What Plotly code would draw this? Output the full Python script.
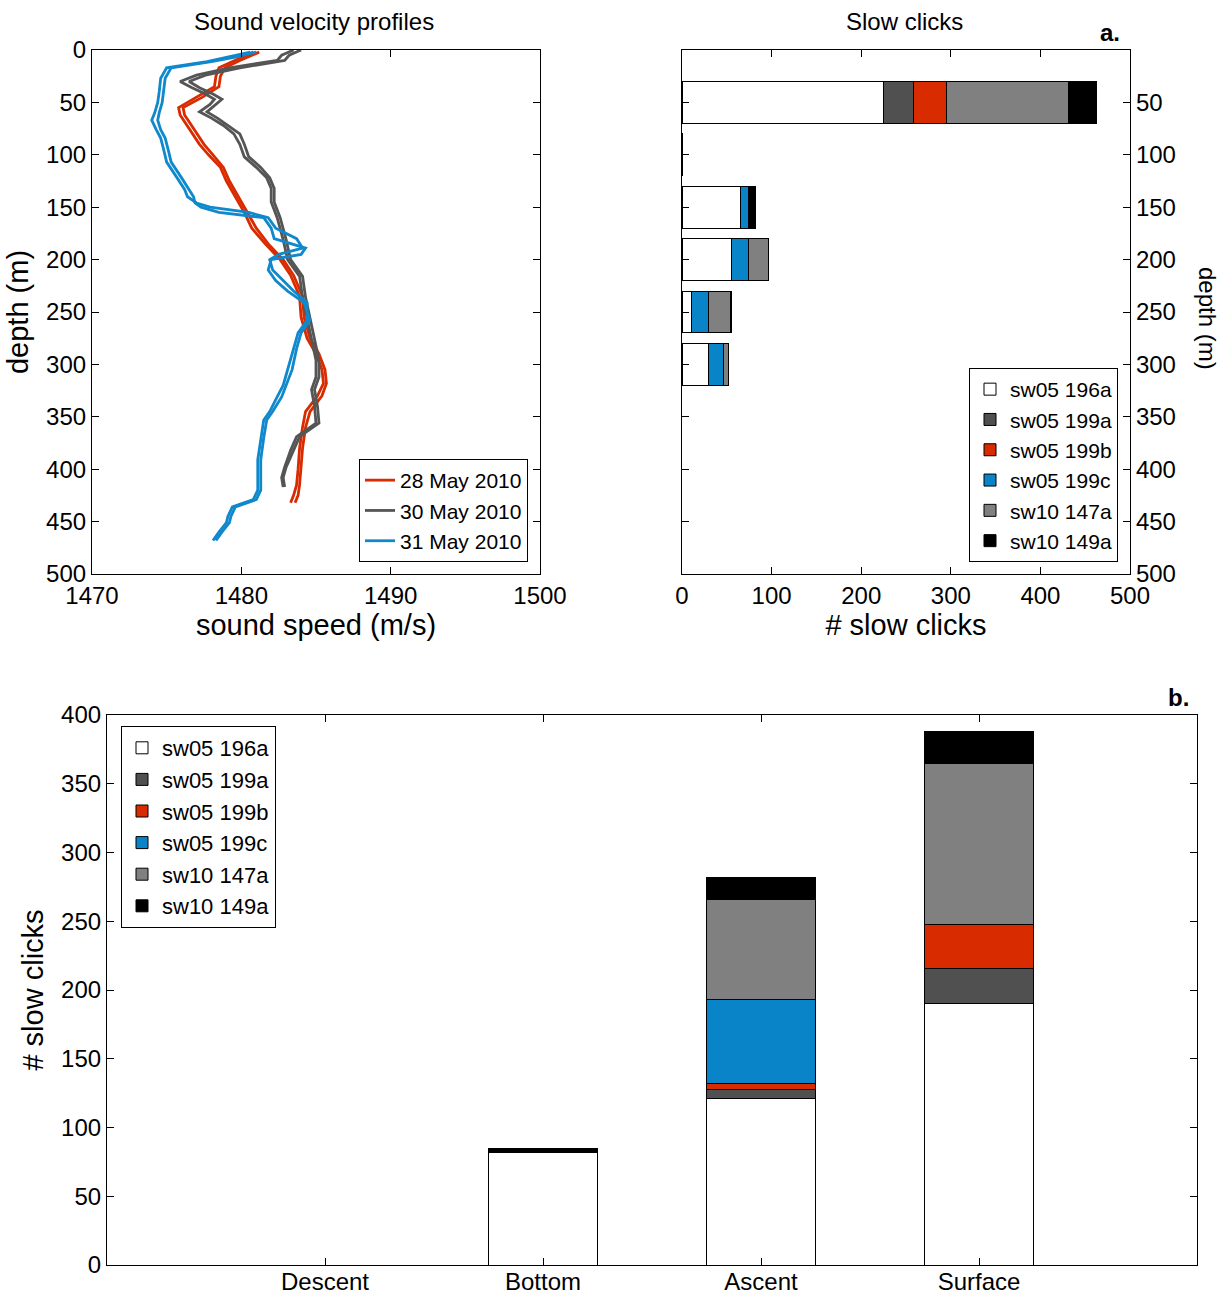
import plotly.graph_objects as go

# ---------------- data ----------------
# Sound velocity profiles (two casts each)
red_depth = [2, 10, 17, 25, 35, 45, 55, 62, 75, 90, 100, 112, 125, 140, 155, 170, 185, 200, 215, 235,
             255, 275, 290, 305, 318, 330, 345, 360, 380, 400, 415, 425, 432]
red_speed_a = [1480.8, 1479.6, 1478.5, 1478.3, 1478.2, 1477.0, 1475.8, 1475.9, 1476.5, 1477.2, 1477.8, 1478.6,
               1479.0, 1479.6, 1480.2, 1480.7, 1481.6, 1482.6, 1483.3, 1483.9, 1484.0, 1484.4, 1485.0, 1485.4,
               1485.5, 1485.1, 1484.3, 1484.1, 1483.9, 1483.8, 1483.7, 1483.5, 1483.3]
red_speed_b = [1481.2, 1479.9, 1478.9, 1478.6, 1478.5, 1477.4, 1476.1, 1476.2, 1476.8, 1477.5, 1478.1, 1478.8,
               1479.2, 1479.8, 1480.4, 1481.0, 1481.8, 1482.8, 1483.5, 1484.1, 1484.2, 1484.6, 1485.2, 1485.6,
               1485.7, 1485.4, 1484.6, 1484.3, 1484.1, 1484.0, 1483.9, 1483.8, 1483.6]

gray_depth = [0, 5, 10, 17, 24, 30, 36, 42, 47, 52, 59, 65, 72, 80, 90, 102, 112, 122, 132, 145, 160, 181,
              200, 216, 236, 255, 275, 296, 312, 324, 340, 356, 369, 382, 398, 408, 417]
gray_speed_a = [1483.5, 1482.7, 1482.4, 1479.2, 1477.0, 1475.9, 1476.7, 1477.6, 1478.2, 1477.9, 1477.2, 1478.0,
                1478.8, 1479.5, 1479.9, 1480.2, 1481.0, 1481.7, 1482.0, 1482.0, 1482.4, 1482.8, 1483.1, 1483.9,
                1484.1, 1484.4, 1484.7, 1485.0, 1485.0, 1484.7, 1484.9, 1485.0, 1483.7, 1483.3, 1482.9, 1482.7,
                1482.8]
gray_speed_b = [1484.0, 1483.2, 1482.9, 1479.9, 1477.6, 1476.5, 1477.2, 1478.1, 1478.7, 1478.3, 1477.7, 1478.4,
                1479.1, 1479.9, 1480.2, 1480.5, 1481.3, 1481.9, 1482.2, 1482.2, 1482.6, 1483.0, 1483.3, 1484.1,
                1484.3, 1484.6, 1484.9, 1485.2, 1485.2, 1484.9, 1485.1, 1485.2, 1483.9, 1483.5, 1483.0, 1482.8,
                1482.9]

blue_depth = [2, 7, 11, 17, 27, 40, 50, 60, 67, 76, 84, 95, 107, 122, 133, 140, 146, 150, 155, 160, 170, 180,
              189, 195, 200, 210, 220, 230, 241, 258, 270, 285, 305, 320, 331, 345, 353, 370, 391, 410, 420, 429,
              436, 445, 451, 460, 468]
blue_speed_a = [1480.6, 1479.0, 1477.7, 1475.0, 1474.6, 1474.5, 1474.4, 1474.2, 1474.0, 1474.3, 1474.6, 1474.8,
                1475.0, 1475.7, 1476.2, 1476.4, 1477.0, 1477.9, 1480.5, 1481.8, 1482.3, 1483.7, 1484.1, 1482.5,
                1481.9, 1482.1, 1482.8, 1483.5, 1484.4, 1484.4, 1483.8, 1483.5, 1483.1, 1482.8, 1482.4, 1481.9,
                1481.5, 1481.3, 1481.1, 1481.1, 1481.1, 1480.8, 1479.4, 1479.1, 1479.0, 1478.5, 1478.1]
blue_speed_b = [1481.0, 1479.5, 1478.0, 1475.3, 1474.9, 1474.8, 1474.7, 1474.5, 1474.4, 1474.6, 1474.9, 1475.1,
                1475.3, 1476.0, 1476.5, 1476.8, 1476.9, 1477.3, 1478.5, 1481.5, 1482.0, 1482.2, 1484.3, 1484.0,
                1482.0, 1481.8, 1482.3, 1483.1, 1484.2, 1484.6, 1484.0, 1483.7, 1483.4, 1483.0, 1482.7, 1482.1,
                1481.7, 1481.5, 1481.3, 1481.3, 1481.3, 1481.0, 1479.6, 1479.3, 1479.2, 1478.7, 1478.3]

profile_names = ["28 May 2010", "30 May 2010", "31 May 2010"]

# Slow clicks by depth bin (m)
depth_bins = [50, 100, 150, 200, 250, 300]
series_names = ["sw05 196a", "sw05 199a", "sw05 199b", "sw05 199c", "sw10 147a", "sw10 149a"]
clicks_by_depth = {
    "sw05 196a": [225, 1, 65, 55, 11, 30],
    "sw05 199a": [33, 0, 0, 0, 0, 0],
    "sw05 199b": [37, 0, 0, 0, 0, 0],
    "sw05 199c": [0, 0, 9, 19, 19, 16],
    "sw10 147a": [136, 0, 0, 22, 24, 6],
    "sw10 149a": [32, 0, 8, 0, 1.5, 0],
}

# Slow clicks by dive phase
phases = ["Descent", "Bottom", "Ascent", "Surface"]
clicks_by_phase = {
    "sw05 196a": [0, 82, 121, 190],
    "sw05 199a": [0, 0, 6.5, 26],
    "sw05 199b": [0, 0, 4.5, 32],
    "sw05 199c": [0, 0, 61, 0],
    "sw10 147a": [0, 0, 73, 117],
    "sw10 149a": [0, 3, 16, 23],
}

# ---------------- styles ----------------
profile_colors = ["#D92B00", "#555555", "#0F88CC"]
bar_colors = ["#FFFFFF", "#505050", "#D92B00", "#0A84C8", "#808080", "#000000"]
FONT = "Liberation Sans, Arial, sans-serif"
FS = 24
W, H = 1226, 1298


def px(x):
    return x / W


def py(y):
    return 1 - y / H


def nz(vals):
    # hide empty segments so that no zero-height outline is drawn
    return [v if v else None for v in vals]


fig = go.Figure()

profiles = [(red_depth, red_speed_a, red_speed_b),
            (gray_depth, gray_speed_a, gray_speed_b),
            (blue_depth, blue_speed_a, blue_speed_b)]
for (d, a, b), name, col in zip(profiles, profile_names, profile_colors):
    fig.add_trace(go.Scatter(x=a, y=d, mode="lines", name=name, line=dict(color=col, width=2.8),
                             xaxis="x", yaxis="y", legend="legend", showlegend=True))
    fig.add_trace(go.Scatter(x=b, y=d, mode="lines", name=name, line=dict(color=col, width=2.8),
                             xaxis="x", yaxis="y", legend="legend", showlegend=False))

for name, col in zip(series_names, bar_colors):
    fig.add_trace(go.Bar(x=nz(clicks_by_depth[name]), y=depth_bins, orientation="h", name=name, width=40,
                         marker=dict(color=col, line=dict(color="black", width=1)),
                         xaxis="x2", yaxis="y2", legend="legend2"))

for name, col in zip(series_names, bar_colors):
    fig.add_trace(go.Bar(x=phases, y=nz(clicks_by_phase[name]), name=name, width=0.5,
                         marker=dict(color=col, line=dict(color="black", width=1)),
                         xaxis="x3", yaxis="y3", legend="legend3"))

axis_common = dict(showline=True, linecolor="black", linewidth=1.2, mirror="ticks", ticks="inside",
                   ticklen=7, tickcolor="black", showgrid=False, zeroline=False, automargin=False,
                   tickfont=dict(family=FONT, size=FS, color="black"))


def legend_style(fs):
    return dict(bgcolor="white", bordercolor="black", borderwidth=1, traceorder="normal",
                font=dict(family=FONT, size=fs, color="black"), tracegroupgap=0)


def note(text, x, y, angle=0):
    return dict(text=text, x=px(x), y=py(y), xref="paper", yref="paper", xanchor="center",
                yanchor="middle", textangle=angle, showarrow=False, font=dict(family=FONT, size=FS))


fig.update_layout(
    width=W, height=H, margin=dict(l=0, r=0, t=0, b=0, autoexpand=False),
    paper_bgcolor="white", plot_bgcolor="white", barmode="stack",
    font=dict(family=FONT, size=FS, color="black"),
    xaxis=dict(domain=[px(92), px(540)], range=[1470, 1500], tickvals=[1470, 1480, 1490, 1500],
               anchor="y", title=dict(text="sound speed (m/s)", standoff=0), **axis_common),
    yaxis=dict(domain=[py(574), py(50)], range=[500, 0], tickvals=list(range(0, 501, 50)),
               anchor="x", title=dict(text="depth (m)", standoff=8), **axis_common),
    xaxis2=dict(domain=[px(682), px(1130)], range=[0, 500], tickvals=[0, 100, 200, 300, 400, 500],
                anchor="y2", title=dict(text="# slow clicks", standoff=0), **axis_common),
    yaxis2=dict(domain=[py(574), py(50)], range=[500, 0], tickvals=list(range(50, 501, 50)),
                anchor="x2", side="right", **axis_common),
    xaxis3=dict(domain=[px(107), px(1197)], range=[-1, 4], type="category", ticklabelstandoff=-5,
                categoryorder="array", categoryarray=phases, anchor="y3", **axis_common),
    yaxis3=dict(domain=[py(1265), py(715)], range=[0, 400], tickvals=list(range(0, 401, 50)),
                anchor="x3", title=dict(text="# slow clicks", standoff=8), **axis_common),
    legend=dict(x=px(528), y=py(562), xanchor="right", yanchor="bottom", **legend_style(21)),
    legend2=dict(x=px(1118), y=py(562), xanchor="right", yanchor="bottom", **legend_style(21)),
    legend3=dict(x=px(121), y=py(726), xanchor="left", yanchor="top", **legend_style(22)),
    annotations=[
        note("Sound velocity profiles", 314, 22),
        note("Slow clicks", 904, 22),
        note("depth (m)", 1208, 318, 90),
        note("<b>a.</b>", 1110, 32),
        note("<b>b.</b>", 1178, 697),
    ],
)

fig.write_html("out.html")
